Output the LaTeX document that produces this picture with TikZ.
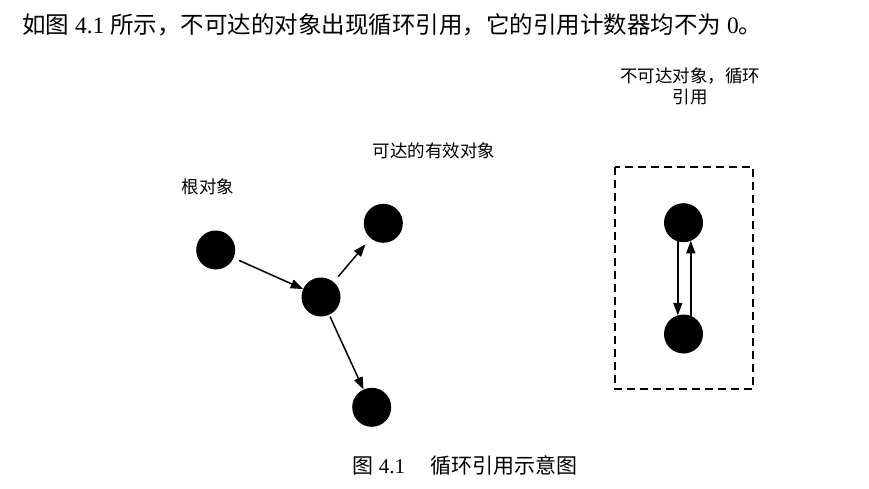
\documentclass[tikz,border=0pt]{standalone}
\usepackage{fontspec}
\setmainfont{Liberation Serif}
\newfontfamily\cjk{Noto Sans CJK SC}
\usetikzlibrary{arrows.meta}
\begin{document}
\begin{tikzpicture}[x=1pt,y=-1pt,
  obj/.style={circle,fill=black,minimum size=39pt,inner sep=0pt,outer sep=0pt},
  arr/.style={line width=1.5pt,-{Triangle[length=12.5pt,width=9pt]}},
  label/.style={inner sep=0pt,font=\cjk\fontsize{17.5}{22}\selectfont,align=center},
  frame/.style={line width=1.7pt,dash pattern=on 8pt off 5pt}]
\useasboundingbox (0,0) rectangle (869,489);

% introductory sentence
\node[inner sep=0pt,anchor=west,font=\fontsize{23.5}{27}\selectfont] (intro) at (22,25)
  {{\cjk 如图} 4.1 {\cjk 所示，不可达的对象出现循环引用，它的引用计数器均不为} 0{\cjk 。}};

% reachable objects
\node[obj] (root) at (215.7,250) {};
\node[obj] (mid)  at (321,297) {};
\node[obj] (tr)   at (383.3,223.3) {};
\node[obj] (bot)  at (371.7,407.3) {};

\draw[arr,shorten <=6pt] (root) -- (mid);
\draw[arr,shorten <=7pt,shorten >=8pt] (mid) -- (tr);
\draw[arr,shorten <=2pt] (mid) -- (bot);

\node[label] (lroot) at (208,187) {根对象};
\node[label] (lreach) at (434,151) {可达的有效对象};

% unreachable objects referencing each other
\draw[frame] (615,167) rectangle (753,389);
\node[obj] (ctop) at (683.5,222.7) {};
\node[obj] (cbot) at (683.5,334) {};
\draw[arr] (ctop.-107) -- (cbot.107);
\draw[arr] (cbot.68) -- (ctop.-68);

\node[label] (lcycle) at (690,86) {不可达对象，循环\\[-1pt]引用};

% caption
\node[inner sep=0pt,font=\fontsize{21}{24}\selectfont] (cap) at (465,466)
  {{\cjk 图} 4.1\hspace{1.2em}{\cjk 循环引用示意图}};
\end{tikzpicture}
\end{document}
